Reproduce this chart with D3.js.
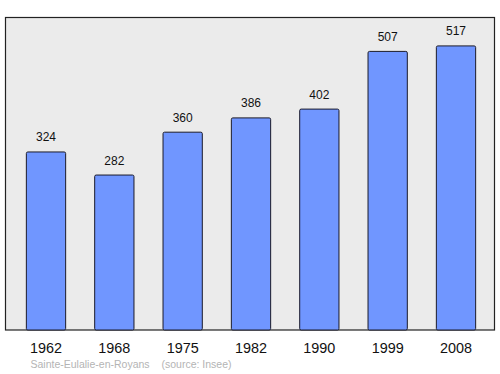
<!DOCTYPE html>
<meta charset="utf-8">
<style>
body { margin: 0; background: #fff; }
text { font-family: "Liberation Sans", Arial, sans-serif; }
.bar { fill: #7096ff; stroke: #1a1a2a; stroke-width: 1; }
.valueLabel { font-size: 12px; fill: #111; }
.yearLabel { font-size: 14.4px; fill: #111; }
.source { font-size: 10.5px; fill: #b4b4b4; }
</style>

<svg width="500" height="374"></svg>

<script src="https://cdn.jsdelivr.net/npm/d3@7"></script>
<script>

//population by census year
const years = ["1962", "1968", "1975", "1982", "1990", "1999", "2008"];
const population = [324, 282, 360, 386, 402, 507, 517];
const commune = "Sainte-Eulalie-en-Royans";
const source = "(source: Insee)";

const svg = d3.select("svg");

//plot frame
const frame = {left: 5.5, top: 17.5, right: 494.5, bottom: 330};

svg.append("rect")
    .attr("x", frame.left)
    .attr("y", frame.top)
    .attr("width", frame.right - frame.left)
    .attr("height", frame.bottom - frame.top)
    .attr("fill", "#ebebeb")
    .attr("stroke", "#222")
    .attr("stroke-width", 1.2);

//scales
const x = d3.scaleBand()
    .domain(years)
    .range([12, 490])
    .paddingInner(0.425)
    .paddingOuter(0.21);

const y = d3.scaleLinear()
    .domain([0, d3.max(population) * 1.1])
    .range([frame.bottom, frame.top]);

const data = years.map((yr, i) => ({year: yr, value: population[i]}));

//bars
svg.selectAll(".bar")
    .data(data)
    .enter().append("rect")
    .attr("class", "bar")
    .attr("x", d => x(d.year))
    .attr("y", d => y(d.value))
    .attr("width", x.bandwidth())
    .attr("height", d => frame.bottom - y(d.value))
    .attr("rx", 1.5);

//values above bars
svg.selectAll(".valueLabel")
    .data(data)
    .enter().append("text")
    .attr("class", "valueLabel")
    .attr("text-anchor", "middle")
    .attr("x", d => x(d.year) + x.bandwidth() / 2)
    .attr("y", d => y(d.value) - 10.5)
    .text(d => d.value);

//year labels
svg.selectAll(".yearLabel")
    .data(data)
    .enter().append("text")
    .attr("class", "yearLabel")
    .attr("text-anchor", "middle")
    .attr("x", d => x(d.year) + x.bandwidth() / 2)
    .attr("y", 352.5)
    .text(d => d.year);

//caption
svg.append("text")
    .attr("class", "source")
    .attr("x", 30.5)
    .attr("y", 368)
    .text(commune);

svg.append("text")
    .attr("class", "source")
    .attr("x", 161.5)
    .attr("y", 368)
    .text(source);

</script>
